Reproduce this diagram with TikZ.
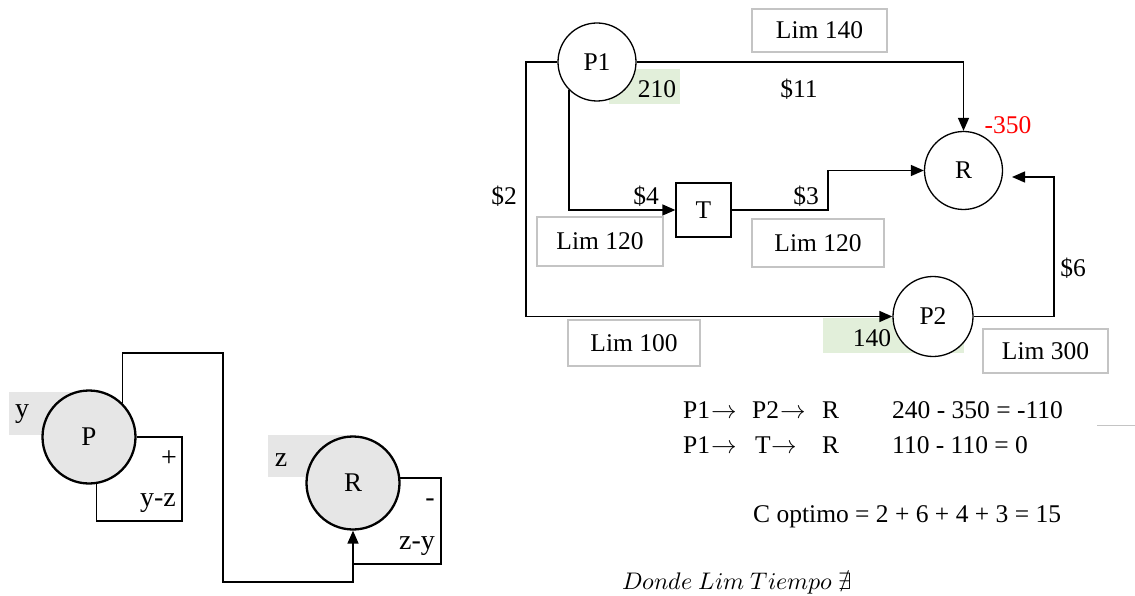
\documentclass[tikz,border=0pt]{standalone}
\usepackage{unicode-math}
\setmainfont{Liberation Serif}
\usetikzlibrary{arrows.meta}
\definecolor{limgray}{HTML}{C4C4C4}
\definecolor{greenbg}{HTML}{E2EFDA}
\definecolor{graybg}{HTML}{E6E6E6}
\definecolor{negred}{HTML}{FF0000}
\newcommand{\myarr}{\kern1pt$\rightarrow$}
\begin{document}
\begin{tikzpicture}[x=1pt,y=-1pt,font=\fontsize{25.5}{30}\selectfont,
  flow/.style={line width=1.4pt},
  blflow/.style={line width=1.6pt},
  tip/.style={-{Triangle[length=13pt,width=11pt]}},
  circnode/.style={circle,draw,line width=1.3pt,fill=white,inner sep=0pt,minimum size=78pt},
  bigcirc/.style={circle,draw,line width=2.3pt,fill=graybg,inner sep=0pt,minimum size=93pt,font=\fontsize{27}{30}\selectfont},
  limbox/.style={draw=limgray,line width=1.2pt,fill=white,inner sep=0pt},
  greenbox/.style={fill=greenbg,inner sep=0pt},
  lbl/.style={inner sep=0pt},
  txt/.style={inner sep=0pt,anchor=west},
  bllbl/.style={inner sep=0pt,font=\fontsize{28}{30}\selectfont}]
\useasboundingbox (0,0) rectangle (1135,596);

% ---------- top-right network ----------
\node[limbox,minimum width=135pt,minimum height=43pt] (lim140) at (819.5,30.5) {Lim 140};
\node[limbox,minimum width=126pt,minimum height=49pt] (lim120a) at (600,241.5) {Lim 120};
\node[limbox,minimum width=132pt,minimum height=48pt] (lim120b) at (818,243) {Lim 120};
\node[limbox,minimum width=132pt,minimum height=46pt] (lim100) at (634,343) {Lim 100};
\node[limbox,minimum width=125pt,minimum height=44pt] (lim300) at (1045.5,351) {Lim 300};

\node[greenbox,minimum width=71pt,minimum height=35pt] (g210) at (644.5,86.5) {};
\node[greenbox,minimum width=141pt,minimum height=35pt] (g140) at (893.5,335.5) {};
\node[lbl] (t210) at (657,89) {210};
\node[lbl] (t140) at (872,338) {140};

\node[circnode] (P1) at (597,62) {\raisebox{-4pt}{P1}};
\node[circnode] (R) at (963.5,170.5) {R};
\node[circnode,minimum size=80pt] (P2) at (933,316.5) {P2};
\node[draw,line width=1.3pt,fill=white,minimum width=55pt,minimum height=54pt,inner sep=0pt] (T) at (703.5,210) {T};

\coordinate (c1) at (526,62);
\coordinate (c3) at (828,210);
\coordinate (c5) at (1054,177);
\coordinate (rin) at (1012,177);

\draw[flow,tip] (P1.west) -- (c1) |- (P2.west);
\draw[flow,tip] (P1.east) -| (R.north);
\draw[flow,tip] (P1.south west) |- (T.west);
\draw[flow,tip] (T.east) -- (c3) |- (R.west);
\draw[flow,tip] (P2.east) -| (c5) -- (rin);

\node[lbl] (s11) at (799,89) {\$11};
\node[lbl] (s4) at (646,196) {\$4};
\node[lbl] (s3) at (806,196) {\$3};
\node[lbl] (s2) at (504,196) {\$2};
\node[lbl] (s6) at (1073,268) {\$6};
\node[lbl,text=negred] (m350) at (1008,125) {-350};

% ---------- bottom text ----------
\node[txt] (r1a) at (683,410) {P1\myarr};
\node[txt] (r1b) at (752,410) {P2\myarr};
\node[txt] (r1c) at (822,410) {R};
\node[txt] (r1d) at (892,410) {240 - 350 = -110};
\node[txt] (r2a) at (683,445) {P1\myarr};
\node[txt] (r2b) at (755,445) {T\myarr};
\node[txt] (r2c) at (822,445) {R};
\node[txt] (r2d) at (892,445) {110 - 110 = 0};
\node[txt] (copt) at (753,517) {C optimo = 2 + 6 + 4 + 3 = 15};
\node[txt,font=\fontsize{24}{28}\selectfont] (donde) at (622,582) {$Donde\ Lim\ Tiempo\ \nexists$};
\draw[line width=1pt,draw=limgray] (1097,425) -- (1135,425);

% ---------- bottom-left diagram ----------
\fill[graybg] (9,392) rectangle (89,435);
\fill[graybg] (268,435) rectangle (353,477);
\node[bigcirc] (P) at (89,437) {P};
\node[bigcirc] (RR) at (353,483) {R};
\coordinate (b1) at (223,353);
\coordinate (b2) at (223,582);
\coordinate (b3) at (182,521);
\coordinate (b4) at (441,564);
\coordinate (b5) at (353,564);
\draw[blflow,tip] (P.45) |- (b1) -- (b2) -| (RR.south);
\draw[blflow] (P.east) -| (b3) -| (P.279);
\draw[blflow] (RR.6) -| (b4) -- (b5);

\node[bllbl] (ly) at (22,414) {y};
\node[bllbl] (lplus) at (169,459) {+};
\node[bllbl] (lyz) at (158,503) {y-z};
\node[bllbl] (lz) at (281,460) {z};
\node[bllbl] (lminus) at (430,503) {-};
\node[bllbl] (lzy) at (417,546) {z-y};
\end{tikzpicture}
\end{document}
